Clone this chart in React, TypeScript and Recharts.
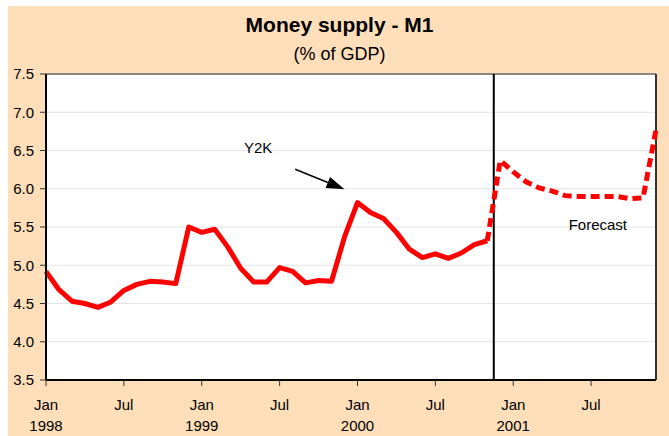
import React from 'react';
import {
  LineChart,
  Line,
  XAxis,
  YAxis,
  CartesianGrid,
  ReferenceLine,
  ReferenceDot,
} from 'recharts';

// months counted from Jan 1998
const startYear = 1998;
const monthNames = ['Jan', 'Feb', 'Mar', 'Apr', 'May', 'Jun', 'Jul', 'Aug', 'Sep', 'Oct', 'Nov', 'Dec'];
const monthCount = 48;

// actual M1, % of GDP (Jan 1998 - Nov 2000)
const actual = [
  4.92, 4.68, 4.53, 4.5, 4.45, 4.52, 4.67, 4.75, 4.79, 4.78, 4.76, 5.5,
  5.43, 5.47, 5.24, 4.96, 4.78, 4.78, 4.97, 4.92, 4.77, 4.8, 4.79, 5.37,
  5.82, 5.69, 5.61, 5.43, 5.21, 5.1, 5.15, 5.09, 5.16, 5.27, 5.32,
];

// forecast, starts at the last actual month (Nov 2000)
const forecastStart = 34;
const forecast = [5.32, 6.37, 6.22, 6.09, 6.01, 5.97, 5.91, 5.9, 5.9, 5.9, 5.9, 5.87, 5.88, 6.77];

const yTicks = [3.5, 4.0, 4.5, 5.0, 5.5, 6.0, 6.5, 7.0, 7.5];
const xTicks = [0, 6, 12, 18, 24, 30, 36, 42];

const data = Array.from({ length: monthCount }, (_, i) => ({
  m: i,
  label: `${monthNames[i % 12]} ${startYear + Math.floor(i / 12)}`,
  actual: i < actual.length ? actual[i] : null,
  forecast: i >= forecastStart ? forecast[i - forecastStart] : null,
}));

const font = "'Liberation Sans', Arial, sans-serif";

const XTick = (props: any) => {
  const { x, y, payload } = props;
  const i = payload.value as number;
  const isJan = i % 12 === 0;
  return (
    <g>
      <text x={x} y={y + 24} textAnchor="middle" fontSize={15} fontFamily={font} fill="#000">
        {monthNames[i % 12]}
      </text>
      {isJan && (
        <text x={x} y={y + 45} textAnchor="middle" fontSize={15} fontFamily={font} fill="#000">
          {startYear + i / 12}
        </text>
      )}
    </g>
  );
};

const Arrow = (props: any) => {
  const { x1, y1, x2, y2 } = props;
  const ang = Math.atan2(y2 - y1, x2 - x1);
  const len = 18;
  const half = 6;
  const bx = x2 - len * Math.cos(ang);
  const by = y2 - len * Math.sin(ang);
  const px = -Math.sin(ang) * half;
  const py = Math.cos(ang) * half;
  return (
    <g>
      <line x1={x1} y1={y1} x2={bx} y2={by} stroke="#000" strokeWidth={1.5} />
      <polygon points={`${x2},${y2} ${bx + px},${by + py} ${bx - px},${by - py}`} fill="#000" />
    </g>
  );
};

export default function App() {
  return (
    <div style={{ position: 'absolute', left: 0, top: 0, width: 669, height: 436, background: '#fff' }}>
      <div style={{ position: 'absolute', left: 8, top: 6, width: 661, height: 430, background: '#FFDEBA' }} />
      <div
        style={{
          position: 'absolute', left: 0, top: 14, width: 679, textAlign: 'center',
          fontFamily: font, fontWeight: 'bold', fontSize: 21, lineHeight: '21px', color: '#000',
        }}
      >
        Money supply - M1
      </div>
      <div
        style={{
          position: 'absolute', left: 0, top: 45, width: 679, textAlign: 'center',
          fontFamily: font, fontSize: 18, lineHeight: '18px', color: '#000',
        }}
      >
        (% of GDP)
      </div>
      <div style={{ position: 'absolute', left: 0, top: 0 }}>
        <LineChart
          width={669}
          height={436}
          data={data}
          margin={{ top: 74, right: 13, bottom: 0, left: 8 }}
          style={{ fontFamily: font }}
        >
          <CartesianGrid fill="#fff" vertical={false} stroke="#e4e4e4" strokeWidth={1} />
          <XAxis
            dataKey="m"
            type="number"
            domain={[0, 47]}
            ticks={xTicks}
            interval={0}
            height={56}
            tickSize={6}
            tickMargin={0}
            axisLine={{ stroke: '#000', strokeWidth: 2 }}
            tickLine={{ stroke: '#333' }}
            tick={<XTick />}
          />
          <YAxis
            type="number"
            domain={[3.5, 7.5]}
            ticks={yTicks}
            interval={0}
            width={38}
            tickSize={6}
            tickMargin={6}
            axisLine={{ stroke: '#000', strokeWidth: 2 }}
            tickLine={{ stroke: '#333' }}
            tick={{ fontSize: 15, fill: '#000', fontFamily: font }}
            tickFormatter={(v: number) => v.toFixed(1)}
          />
          <ReferenceLine y={7.5} stroke="#666" strokeWidth={1.5} />
          <ReferenceLine x={47} stroke="#333" strokeWidth={2} />
          <ReferenceLine x={34.5} stroke="#000" strokeWidth={2} />
          <Line
            dataKey="actual"
            stroke="#ff0000"
            strokeWidth={5}
            strokeLinejoin="round"
            dot={false}
            activeDot={false}
            connectNulls={false}
            isAnimationActive={false}
          />
          <Line
            dataKey="forecast"
            stroke="#ff0000"
            strokeWidth={5}
            strokeDasharray="9 5"
            dot={false}
            activeDot={false}
            connectNulls={false}
            isAnimationActive={false}
          />
          <ReferenceLine
            segment={[{ x: 19.2, y: 6.254 }, { x: 23.0, y: 5.993 }]}
            shape={<Arrow />}
          />
          <ReferenceDot
            x={16.35}
            y={6.533}
            r={0}
            fill="none"
            stroke="none"
            label={{ value: 'Y2K', position: 'center', fontSize: 15, fill: '#000', fontFamily: font }}
          />
          <ReferenceDot
            x={42.52}
            y={5.535}
            r={0}
            fill="none"
            stroke="none"
            label={{ value: 'Forecast', position: 'center', fontSize: 15, fill: '#000', fontFamily: font }}
          />
        </LineChart>
      </div>
    </div>
  );
}
